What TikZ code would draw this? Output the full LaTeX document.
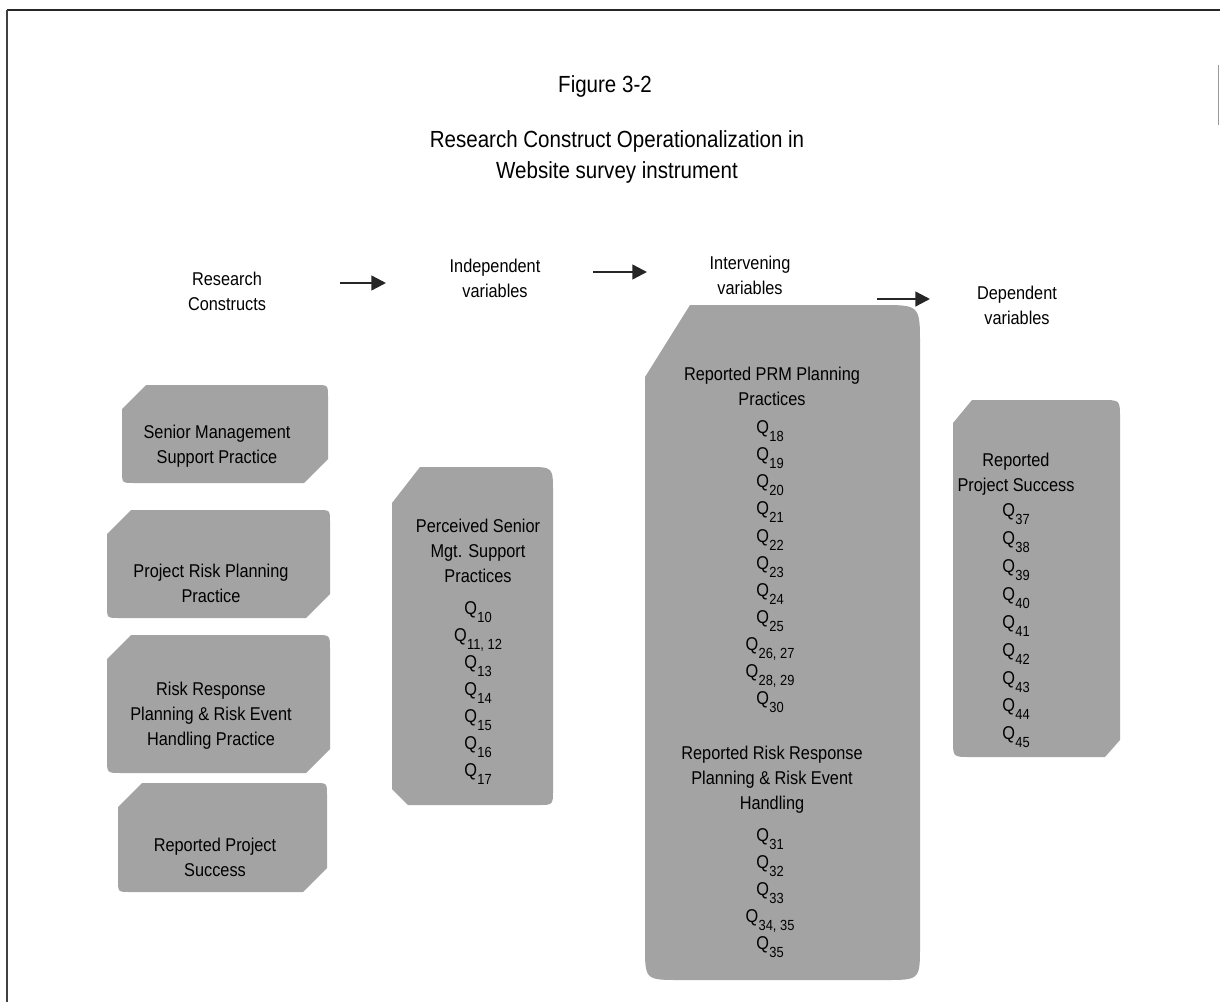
\documentclass[tikz,border=0pt]{standalone}
\usepackage{fontspec}
\setmainfont{Liberation Sans}[FakeStretch=0.88]
\usetikzlibrary{arrows.meta}

% type sizes
\newcommand\boxtextfont{\fontsize{13.9}{18.75}\selectfont}
\newcommand\qlistfont{\fontsize{13.9}{20.3}\selectfont}
\newcommand\qsubfont{\fontsize{11}{11}\selectfont}
\newcommand\figheadfont{\fontsize{17.5}{23.25}\selectfont}
% a question item: Q with its (lowered) question number
\newcommand\qline[1]{Q\kern0.3pt\raisebox{-6pt}{\qsubfont #1}}

% stippled box with a cut top-left and bottom-right corner,
% rounded top-right and bottom-left corner
\newcommand\bevelbox[6]{%
  \fill[stipple] ({#1+#5},#2) -- ({#3-#6},#2) .. controls (#3,#2) .. (#3,{#2+#6})
    -- (#3,{#4-#5}) -- ({#3-#5},#4) -- ({#1+#6},#4) .. controls (#1,#4) .. (#1,{#4-#6})
    -- (#1,{#2+#5}) -- cycle;}

\tikzset{
  stipple/.style={fill=black!36},
  label/.style={align=center, inner sep=0pt, font=\boxtextfont},
  qitem/.style={inner sep=0pt, anchor=base, font=\qlistfont},
  flow/.style={-{Triangle[length=11pt,width=11pt]}, line width=1.8pt, black!85},
}

\begin{document}
\begin{tikzpicture}[x=0.75pt, y=-0.75pt]
\useasboundingbox (0,0) rectangle (1220,1002);

% page frame
\draw[line width=1.5pt, black!85] (7,10) -- (1220,10);
\draw[line width=1.1pt, black!75] (7,10) -- (7,1002);
\draw[line width=0.8pt, black!40] (1218.5,65) -- (1218.5,125);

% heading
\node[inner sep=0pt, font=\figheadfont] (fig) at (605,86) {Figure 3-2};
\node[inner sep=0pt, align=center, font=\figheadfont] (title) at (617,157)
  {Research Construct Operationalization in\\Website survey instrument};

% column headings
\node[label] (hrc) at (227,291.5) {Research\\Constructs};
\node[label] (hiv) at (495,278.5) {Independent\\variables};
\node[label] (hint) at (750,275.5) {Intervening\\variables};
\node[label] (hdv) at (1017,305.5) {Dependent\\variables};

\coordinate (a1s) at (340,283);  \coordinate (a1e) at (386,283);
\coordinate (a2s) at (593,272);  \coordinate (a2e) at (647,272);
\coordinate (a3s) at (877,299);  \coordinate (a3e) at (930,299);
\draw[flow] (a1s) -- (a1e);
\draw[flow] (a2s) -- (a2e);
\draw[flow] (a3s) -- (a3e);

% research constructs
\bevelbox{122}{385}{328}{483}{24}{12}
\bevelbox{107}{510}{330}{618}{24}{12}
\bevelbox{107}{635}{330}{773}{24}{14}
\bevelbox{118}{783}{327}{892}{24}{12}
\node[label] (rc1) at (217,446.5) {Senior Management\\Support Practice};
\node[label] (rc2) at (211,583) {Project Risk Planning\\Practice};
\node[label] (rc3) at (211,716) {Risk Response\\Planning \& Risk Event\\Handling Practice};
\node[label] (rc4) at (215,857) {Reported Project\\Success};

% independent variables
\fill[stipple] (420,467) -- (528,467) .. controls (553,467) .. (553,492)
  -- (553,790) .. controls (553,805) .. (538,805) -- (408,805) -- (392,789)
  -- (392,503) -- cycle;
\node[label] (pv) at (478,551) {Perceived Senior\\Mgt. Support\\Practices};
\foreach \s [count=\i] in {10,{11, 12},13,14,15,16,17}
  \node[qitem] (pv-q\i) at (478,{614.6+27*(\i-1)}) {\qline{\s}};

% intervening variables
\fill[stipple] (690,305) -- (880,305) .. controls (920,305) .. (920,345)
  -- (920,945) .. controls (920,980) .. (885,980) -- (680,980)
  .. controls (645,980) .. (645,945) -- (645,377) -- cycle;
\node[label] (prm) at (772,386) {Reported PRM Planning\\Practices};
\foreach \s [count=\i] in {18,19,20,21,22,23,24,25,{26, 27},{28, 29},30}
  \node[qitem] (prm-q\i) at (770,{433.6+27.1*(\i-1)}) {\qline{\s}};
\node[label] (rrr) at (772,780) {Reported Risk Response\\Planning \& Risk Event\\Handling};
\foreach \s [count=\i] in {31,32,33,{34, 35},35}
  \node[qitem] (rrr-q\i) at (770,{841.6+27*(\i-1)}) {\qline{\s}};

% dependent variables
\fill[stipple] (972,400) -- (1102,400) .. controls (1120,400) .. (1120,418)
  -- (1120,740) -- (1105,757) -- (970,757) .. controls (953,757) .. (953,740)
  -- (953,423) -- cycle;
\node[label] (rps) at (1016,474) {Reported\\Project Success};
\foreach \s [count=\i] in {37,38,39,40,41,42,43,44,45}
  \node[qitem] (rps-q\i) at (1016,{516.6+27.9*(\i-1)}) {\qline{\s}};
\end{tikzpicture}
\end{document}
